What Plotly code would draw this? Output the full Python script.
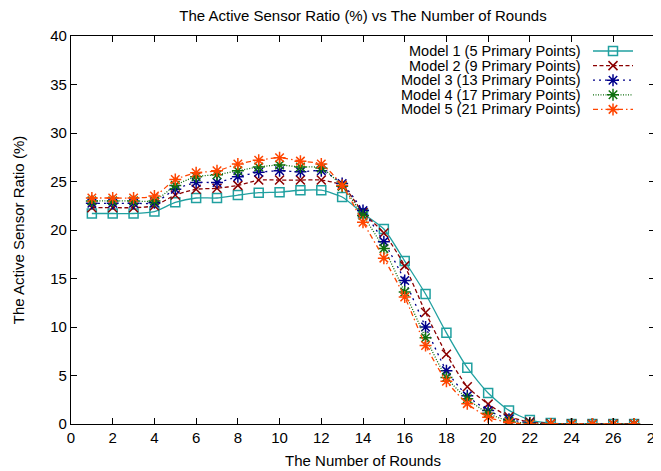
import plotly.graph_objects as go

rounds = list(range(1, 28))

model1 = [21.7, 21.7, 21.7, 21.9, 22.85, 23.3, 23.3, 23.6, 23.85, 23.9, 24.1, 24.1, 23.4,
          21.7, 20.1, 16.8, 13.4, 9.4, 5.8, 3.2, 1.4, 0.4, 0.1, 0.0, 0.0, 0.0, 0.0]
model2 = [22.3, 22.3, 22.3, 22.5, 23.6, 24.2, 24.3, 24.6, 25.15, 25.15, 25.15, 25.15, 24.6,
          21.8, 19.7, 16.3, 11.5, 7.2, 3.85, 2.05, 0.75, 0.2, 0.05, 0.0, 0.0, 0.0, 0.0]
model3 = [22.75, 22.75, 22.75, 22.8, 24.2, 24.9, 24.9, 25.5, 25.95, 26.1, 26.0, 26.1, 24.8,
          22.0, 18.8, 14.8, 10.0, 5.5, 2.9, 1.4, 0.5, 0.1, 0.0, 0.0, 0.0, 0.0, 0.0]
model4 = [23.0, 23.0, 23.0, 23.0, 24.6, 25.5, 25.7, 26.1, 26.5, 26.7, 26.5, 26.4, 24.5,
          21.5, 18.1, 13.6, 8.9, 4.8, 2.6, 1.1, 0.3, 0.05, 0.0, 0.0, 0.0, 0.0, 0.0]
model5 = [23.3, 23.3, 23.3, 23.5, 25.2, 25.9, 26.1, 26.8, 27.2, 27.45, 27.1, 26.8, 24.6,
          20.8, 17.1, 13.1, 8.1, 4.4, 2.1, 0.7, 0.15, 0.0, 0.0, 0.0, 0.0, 0.0, 0.0]

names = ["Model 1 (5 Primary Points)", "Model 2 (9 Primary Points)",
         "Model 3 (13 Primary Points)", "Model 4 (17 Primary Points)",
         "Model 5 (21 Primary Points)"]
series = [model1, model2, model3, model4, model5]
colors = ["#20a0a0", "#8b0000", "#00008b", "#107010", "#ff4500"]
dashes = ["solid", "4px,2.5px", "2px,4px", "1px,1.5px", "5px,3px,1.5px,3px"]
symbols = ["square-open", "x-thin-open", "asterisk-open", "asterisk-open", "asterisk-open"]
sizes = [9, 9, 10, 10, 10]

FONT = "Liberation Sans, Arial, sans-serif"
FS = 15

# page has an 8px body margin; plot area in page pixels: x 71..655, y 36..424
OFF = 8
W, H = 661, 471
PL, PR, PT, PB = 71, 655, 36, 424
ml, mt = PL - OFF, PT - OFF
mr, mb = W - (PR - OFF), H - (PB - OFF)


def px_to_paper_x(px):
    return (px - PL) / (PR - PL)


def px_to_paper_y(py):
    return 1 - (py - PT) / (PB - PT)


LEG_TOP = 51.0
LEG_STEP = 14.6

fig = go.Figure()
legend_defs = {}
for i, (name, ys, c, d, s, sz) in enumerate(zip(names, series, colors, dashes, symbols, sizes)):
    lg = "legend" if i == 0 else f"legend{i + 1}"
    fig.add_trace(go.Scatter(
        x=rounds, y=ys, name=" ", mode="lines+markers", legend=lg, showlegend=True,
        hovertemplate=name + "<br>%{x}, %{y}<extra></extra>",
        line=dict(color=c, dash=d, width=1.3, shape="spline", smoothing=0.6),
        marker=dict(symbol=s, size=sz, color=c, line=dict(color=c, width=1.5)),
    ))
    yc = LEG_TOP + i * LEG_STEP
    legend_defs[lg] = dict(x=px_to_paper_x(588), y=px_to_paper_y(yc),
                           xanchor="left", yanchor="middle", visible=True,
                           bgcolor="rgba(0,0,0,0)", font=dict(size=8, family=FONT),
                           itemwidth=40, borderwidth=0)
    fig.add_annotation(
        text=name, xref="paper", yref="paper",
        x=px_to_paper_x(583), y=px_to_paper_y(yc),
        xanchor="right", yanchor="middle", showarrow=False,
        font=dict(size=14.5, family=FONT, color="black"))

axis_common = dict(showline=True, linecolor="black", linewidth=1.2, mirror="allticks",
                   ticks="inside", ticklen=6, tickcolor="black", showgrid=False,
                   zeroline=False, automargin=False,
                   tickfont=dict(size=FS, color="black", family=FONT))

fig.update_layout(
    width=W, height=H,
    showlegend=True,
    margin=dict(l=ml, r=mr, t=mt, b=mb),
    paper_bgcolor="white", plot_bgcolor="white",
    font=dict(family=FONT, size=FS, color="black"),
    title=dict(text="The Active Sensor Ratio (%) vs The Number of Rounds",
               x=(((PL + PR) / 2) - OFF) / W, xanchor="center",
               y=1 - (16 - OFF) / H, yanchor="middle",
               font=dict(size=FS, family=FONT)),
    xaxis=dict(range=[0, 28], dtick=2, tick0=0,
               title=dict(text="The Number of Rounds", standoff=10, font=dict(size=FS)),
               **axis_common),
    yaxis=dict(range=[0, 40], dtick=5, tick0=0,
               title=dict(text="The Active Sensor Ratio (%)", standoff=21, font=dict(size=FS)),
               **axis_common),
    **legend_defs,
)

fig.write_html("out.html")
